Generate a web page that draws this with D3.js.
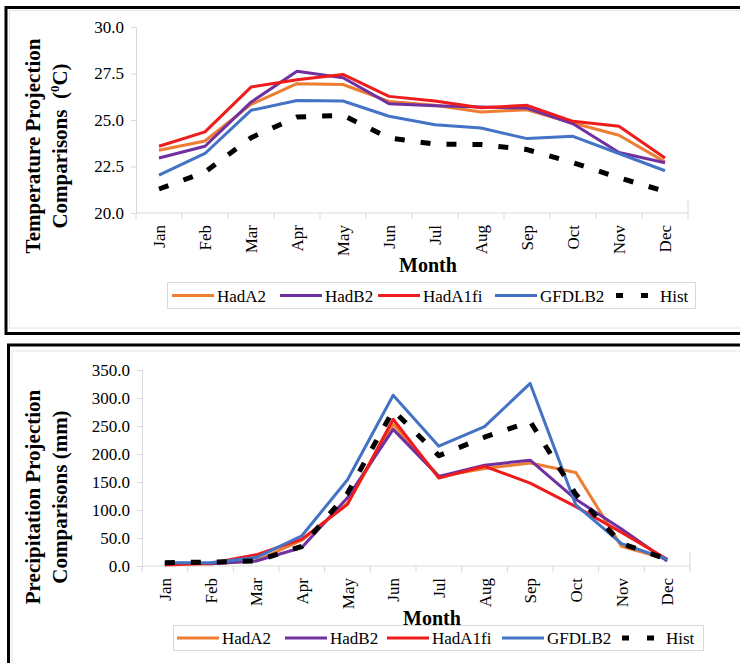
<!DOCTYPE html>
<html>
<head>
<meta charset="utf-8">
<script src="https://cdn.jsdelivr.net/npm/d3@7"></script>
<style>
body { margin: 0; background: #fff; }
text { font-family: "Liberation Serif", "Times New Roman", serif; }
</style>
</head>
<body>
<div id="cont"></div>
<script>
// Data
var months = ["Jan", "Feb", "Mar", "Apr", "May", "Jun", "Jul", "Aug", "Sep", "Oct", "Nov", "Dec"];
var seriesNames = ["HadA2", "HadB2", "HadA1fi", "GFDLB2", "Hist"];

var tempHadA2   = [23.37, 23.87, 25.84, 26.95, 26.91, 26.00, 25.79, 25.43, 25.55, 24.84, 24.18, 22.75];
var tempHadB2   = [22.96, 23.59, 25.96, 27.62, 27.27, 25.88, 25.77, 25.70, 25.64, 24.80, 23.25, 22.70];
var tempHadA1fi = [23.59, 24.36, 26.77, 27.16, 27.45, 26.27, 26.02, 25.66, 25.79, 24.93, 24.66, 22.96];
var tempGFDLB2  = [22.04, 23.20, 25.52, 26.05, 26.02, 25.20, 24.75, 24.57, 24.00, 24.12, 23.20, 22.27];
var tempHist    = [21.29, 22.20, 24.05, 25.16, 25.25, 24.04, 23.70, 23.68, 23.41, 22.71, 21.89, 21.17];
var tempTicks   = [20, 22.5, 25, 27.5, 30];

var precHadA2   = [3, 4, 9, 46, 112, 253, 160, 174, 184, 167, 35, 12];
var precHadB2   = [5, 4, 9, 33, 122, 244, 160, 180, 189, 119, 66, 9];
var precHadA1fi = [2, 5, 20, 48, 110, 262, 157, 178, 148, 106, 60, 12];
var precGFDLB2  = [6, 6, 15, 54, 154, 305, 214, 249, 326, 109, 40, 12];
var precHist    = [6, 7, 9, 35, 130, 278, 197, 230, 258, 128, 40, 12];
var precTicks   = [0, 50, 100, 150, 200, 250, 300, 350];

var colors = ["#ED7D31", "#7030A0", "#EE1C1C", "#4472C4", "#000000"];
var axisGray = "#d9d9d9";

// SVG container
var svg = d3.select("#cont").append("svg")
    .attr("width", 740)
    .attr("height", 663);

// outer frames
svg.append("rect")
    .attr("x", 6).attr("y", 7.5).attr("width", 760).attr("height", 326)
    .attr("fill", "none").attr("stroke", "#000").attr("stroke-width", 3);
svg.append("rect")
    .attr("x", 9.5).attr("y", 10.5).attr("width", 760).attr("height", 317.5)
    .attr("fill", "none").attr("stroke", "#e4e4e4").attr("stroke-width", 1);
svg.append("rect")
    .attr("x", 8.5).attr("y", 345).attr("width", 760).attr("height", 400)
    .attr("fill", "none").attr("stroke", "#000").attr("stroke-width", 3);
svg.append("rect")
    .attr("x", 12).attr("y", 351).attr("width", 760).attr("height", 400)
    .attr("fill", "none").attr("stroke", "#e4e4e4").attr("stroke-width", 1);

function drawChart(c) {
    var g = svg.append("g");

    var x = d3.scaleBand()
        .domain(months)
        .range([c.left, c.right]);

    var y = d3.scaleLinear()
        .domain(c.domain)
        .range([c.bottom, c.top]);

    // y axis
    var yAxis = g.append("g")
        .attr("transform", "translate(" + c.left + ",0)")
        .call(d3.axisLeft(y)
            .tickValues(c.ticks)
            .tickFormat(d3.format(".1f"))
            .tickSize(5)
            .tickPadding(7));
    yAxis.select(".domain").attr("stroke", axisGray);
    yAxis.selectAll(".tick line").attr("stroke", axisGray);
    yAxis.selectAll("text")
        .attr("font-size", 17)
        .attr("fill", "#000");

    // x axis: ticks on category boundaries, labels rotated
    g.append("line")
        .attr("x1", c.left).attr("x2", c.right)
        .attr("y1", c.bottom).attr("y2", c.bottom)
        .attr("stroke", axisGray);
    var bounds = months.map(function(m) { return x(m); }).concat([c.right]);
    g.selectAll(".xtick")
        .data(bounds)
        .enter().append("line")
        .attr("class", "xtick")
        .attr("x1", function(d) { return d; })
        .attr("x2", function(d) { return d; })
        .attr("y1", c.bottom)
        .attr("y2", c.bottom + 6)
        .attr("stroke", axisGray);
    g.append("line")
        .attr("x1", c.right).attr("x2", c.right)
        .attr("y1", c.bottom - 14).attr("y2", c.bottom)
        .attr("stroke", axisGray);

    g.selectAll(".xlab")
        .data(months)
        .enter().append("text")
        .attr("class", "xlab")
        .attr("transform", function(d) {
            return "translate(" + (x(d) + x.bandwidth() / 2 + 6) + "," + c.labelTop + ") rotate(-90)";
        })
        .attr("text-anchor", "end")
        .attr("font-size", 17)
        .text(function(d) { return d; });

    // axis titles
    g.append("text")
        .attr("x", c.monthX).attr("y", c.monthY)
        .attr("text-anchor", "middle")
        .attr("font-size", 20)
        .attr("font-weight", "bold")
        .text("Month");

    g.append("text")
        .attr("transform", "translate(40," + c.titleY + ") rotate(-90)")
        .attr("text-anchor", "middle")
        .attr("font-size", 21)
        .attr("font-weight", "bold")
        .text(c.title1);

    var t2 = g.append("text")
        .attr("transform", "translate(67," + c.titleY + ") rotate(-90)")
        .attr("text-anchor", "middle")
        .attr("font-size", 21)
        .attr("font-weight", "bold")
        .style("white-space", "pre");
    c.title2(t2);

    // series lines
    var line = d3.line()
        .x(function(d, i) { return x(months[i]) + x.bandwidth() / 2; })
        .y(function(d) { return y(d); });

    c.series.forEach(function(s, i) {
        g.append("path")
            .datum(s)
            .attr("d", line)
            .attr("fill", "none")
            .attr("stroke", colors[i])
            .attr("stroke-width", i === 4 ? 5 : 3)
            .attr("stroke-dasharray", i === 4 ? "10,16" : null)
            .attr("stroke-linejoin", "round");
    });

    // legend
    var L = c.legend;
    g.append("rect")
        .attr("x", L.x + 0.5).attr("y", L.y + 0.5)
        .attr("width", L.w).attr("height", L.h)
        .attr("fill", "#fff")
        .attr("stroke", axisGray);
    seriesNames.forEach(function(name, i) {
        var lx = L.items[i];
        var ly = L.y + L.h / 2 + 0.5;
        g.append("line")
            .attr("x1", lx).attr("x2", lx + (i === 4 ? 32 : 42))
            .attr("y1", ly).attr("y2", ly)
            .attr("stroke", colors[i])
            .attr("stroke-width", i === 4 ? 5 : 3)
            .attr("stroke-dasharray", i === 4 ? "7,18" : null);
        g.append("text")
            .attr("x", lx + (i === 4 ? 44 : 45))
            .attr("y", L.y + L.h - 6)
            .attr("font-size", 17)
            .text(name);
    });
}

drawChart({
    left: 136, right: 688, top: 27, bottom: 213,
    domain: [20, 30], ticks: tempTicks,
    labelTop: 225, monthX: 428, monthY: 272,
    titleY: 146,
    title1: "Temperature Projection",
    title2: function(t) {
        t.append("tspan").text("Comparisons  (");
        t.append("tspan").attr("font-size", 13).attr("dy", -8).text("0");
        t.append("tspan").attr("dy", 8).text("C)");
    },
    series: [tempHadA2, tempHadB2, tempHadA1fi, tempGFDLB2, tempHist],
    legend: { x: 167, y: 282, w: 528, h: 26, items: [172, 280, 378, 495, 616] }
});

drawChart({
    left: 142, right: 690, top: 370, bottom: 566,
    domain: [0, 350], ticks: precTicks,
    labelTop: 578, monthX: 432, monthY: 625,
    titleY: 497,
    title1: "Precipitation Projection",
    title2: function(t) { t.text("Comparisons (mm)"); },
    series: [precHadA2, precHadB2, precHadA1fi, precGFDLB2, precHist],
    legend: { x: 173, y: 625, w: 530, h: 25, items: [177, 285, 387, 502, 622] }
});
</script>
</body>
</html>
